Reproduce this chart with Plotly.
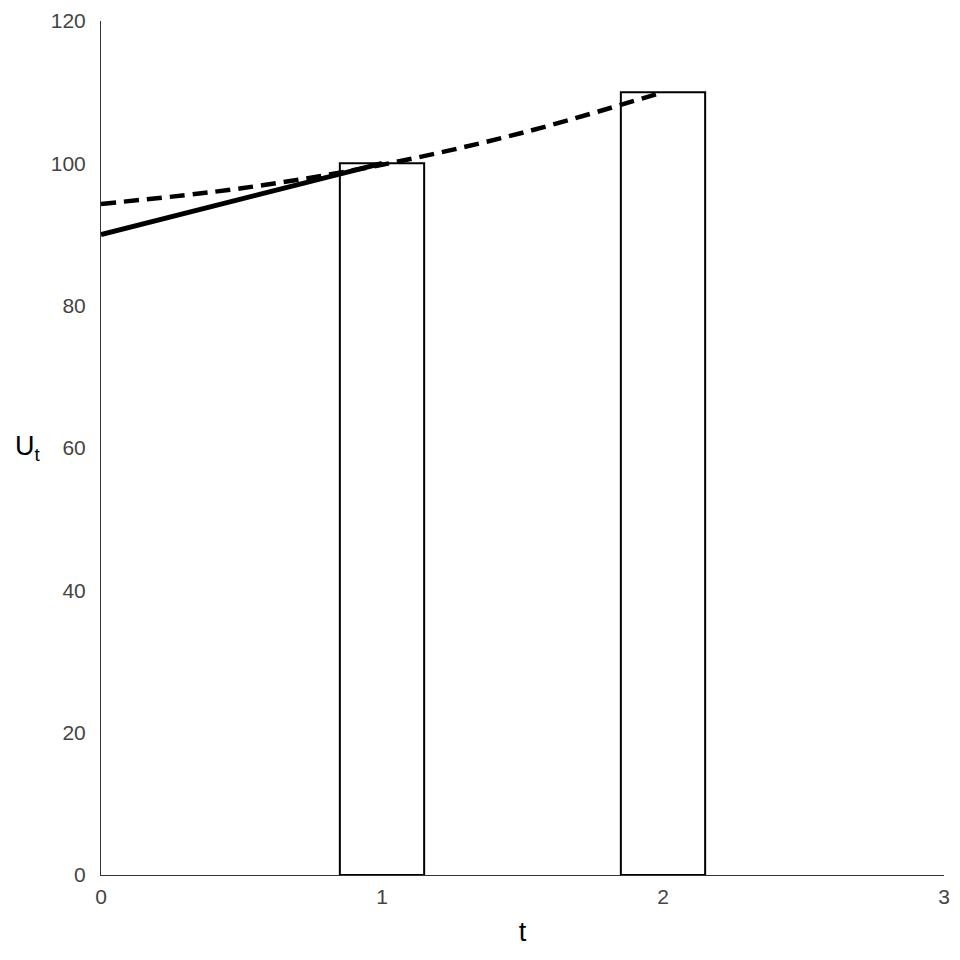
import plotly.graph_objects as go

# barras observadas
t_barras = [1, 2]
u_barras = [100, 110]

# reta (linha cheia)
t_reta = [0, 1]
u_reta = [90, 100]

# curva tracejada
t_curva = [0, 0.5, 1, 1.5, 2]
u_curva = [94.3, 96.5, 99.8, 104.3, 110.0]

fig = go.Figure()
fig.add_trace(go.Bar(
    x=t_barras, y=u_barras, width=0.3,
    marker=dict(color="white", line=dict(color="black", width=2)),
    showlegend=False,
))
fig.add_trace(go.Scatter(
    x=t_reta, y=u_reta, mode="lines",
    line=dict(color="black", width=5),
    showlegend=False,
))
fig.add_trace(go.Scatter(
    x=t_curva, y=u_curva, mode="lines",
    line=dict(color="black", width=4.5, dash="15px,8px", shape="spline"),
    showlegend=False,
))

# a página tem 8px de margem no body
fig.update_layout(
    width=952, height=952,
    margin=dict(l=93, r=16, t=13, b=85),
    plot_bgcolor="white", paper_bgcolor="white",
    font=dict(family="Liberation Sans, Arial, sans-serif", size=21, color="#444"),
)
fig.update_xaxes(
    range=[0, 3], tickvals=[0, 1, 2, 3], showgrid=False, zeroline=False,
    showline=True, linecolor="#333", linewidth=1, ticks="", automargin=False,
    ticklabelstandoff=3,
    title=dict(text="t", font=dict(size=27, color="black"), standoff=14),
)
fig.update_yaxes(
    range=[0, 120], tickvals=[0, 20, 40, 60, 80, 100, 120], showgrid=False,
    zeroline=False, showline=True, linecolor="#333", linewidth=1, ticks="",
    automargin=False, ticklabelstandoff=10,
)
fig.add_annotation(
    text="U<sub>t</sub>", xref="paper", yref="y", x=0, y=60,
    xanchor="right", yanchor="middle", xshift=-58, showarrow=False,
    font=dict(size=27, color="black"),
)

fig.write_html("out.html")
